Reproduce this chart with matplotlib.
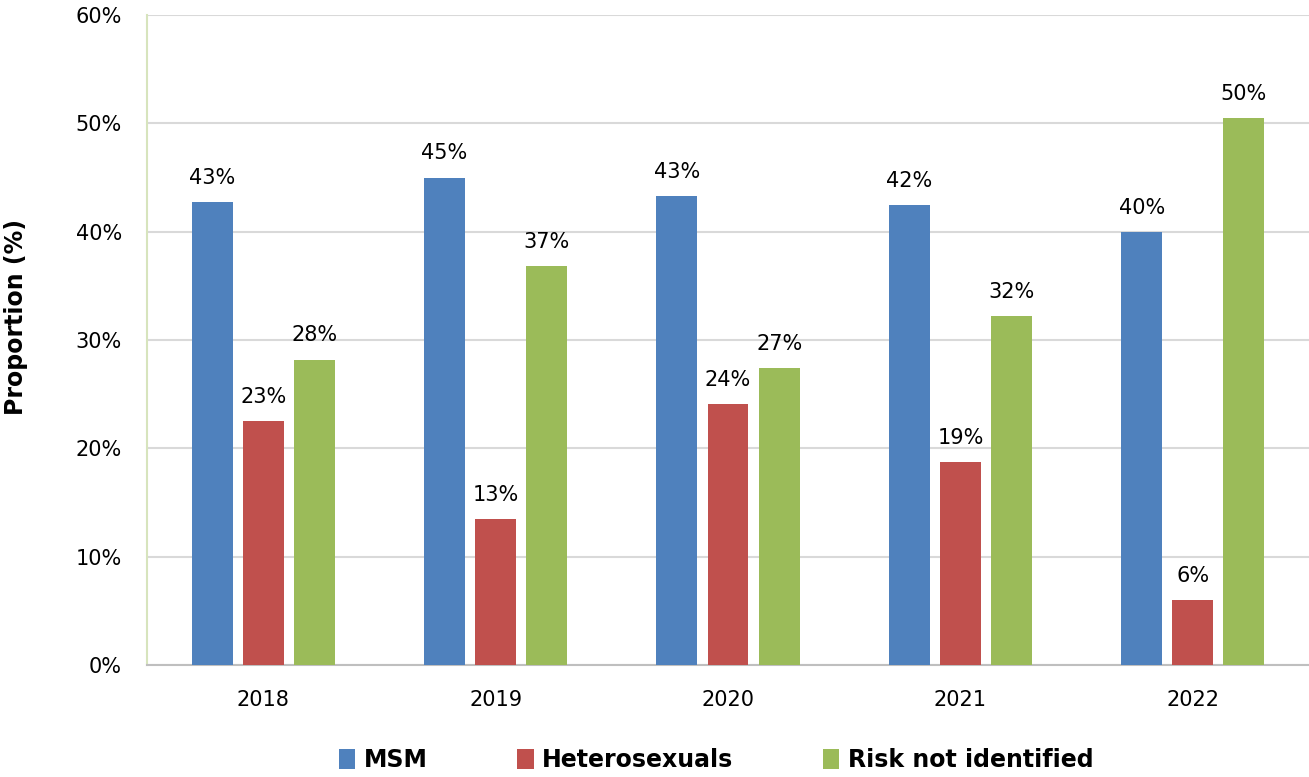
import matplotlib
matplotlib.use("Agg")
import matplotlib.pyplot as plt
import numpy as np
from matplotlib.ticker import PercentFormatter

years = ["2018", "2019", "2020", "2021", "2022"]
series_names = ["MSM", "Heterosexuals", "Risk not identified"]
msm = [42.7, 45.0, 43.3, 42.5, 40.0]
hetero = [22.5, 13.5, 24.1, 18.7, 6.0]
risk = [28.2, 36.8, 27.4, 32.2, 50.5]
value_labels = [
    ["43%", "45%", "43%", "42%", "40%"],
    ["23%", "13%", "24%", "19%", "6%"],
    ["28%", "37%", "27%", "32%", "50%"],
]

colors = ["#4f81bd", "#c0504d", "#9bbb59"]

plt.rcParams["font.family"] = ["DejaVu Sans"]

fig = plt.figure(figsize=(13.09, 7.77), dpi=100)
ax = fig.add_axes([0.1123, 0.1441, 0.8877, 0.8366])

x = np.arange(len(years))
width = 0.176
step = 0.22
for i, (vals, name) in enumerate(zip([msm, hetero, risk], series_names)):
    pos = x + (i - 1) * step
    bars = ax.bar(pos, vals, width, color=colors[i], label=name, zorder=3)
    for b, lab in zip(bars, value_labels[i]):
        ax.text(b.get_x() + b.get_width() / 2, b.get_height() + 1.3, lab,
                ha="center", va="bottom", fontsize=15)

ax.set_xlim(-0.5, len(years) - 0.5)
ax.set_ylim(0, 60)
ax.set_yticks(np.arange(0, 61, 10))
ax.yaxis.set_major_formatter(PercentFormatter(decimals=0))
ax.set_xticks(x)
ax.set_xticklabels(years)
ax.tick_params(axis="both", length=0, labelsize=15)
ax.tick_params(axis="y", pad=18)
ax.tick_params(axis="x", pad=18)
ax.grid(axis="y", color="#d9d9d9", linewidth=1.5, zorder=0)

for s in ["top", "right"]:
    ax.spines[s].set_visible(False)
ax.spines["left"].set_color("#d7e4bd")
ax.spines["left"].set_linewidth(1.5)
ax.spines["bottom"].set_color("#bfbfbf")
ax.spines["bottom"].set_linewidth(1.5)

ax.set_ylabel("Proportion (%)", fontsize=17, fontweight="bold")
ax.yaxis.set_label_coords(-0.102, 0.535)

leg = fig.legend(loc="center", bbox_to_anchor=(0.547, 0.022), ncol=3,
                 frameon=False, handlelength=0.7, handleheight=0.9,
                 handletextpad=0.35, columnspacing=3.8,
                 prop={"size": 17, "weight": "bold"})

fig.savefig("out.png", dpi=100)
